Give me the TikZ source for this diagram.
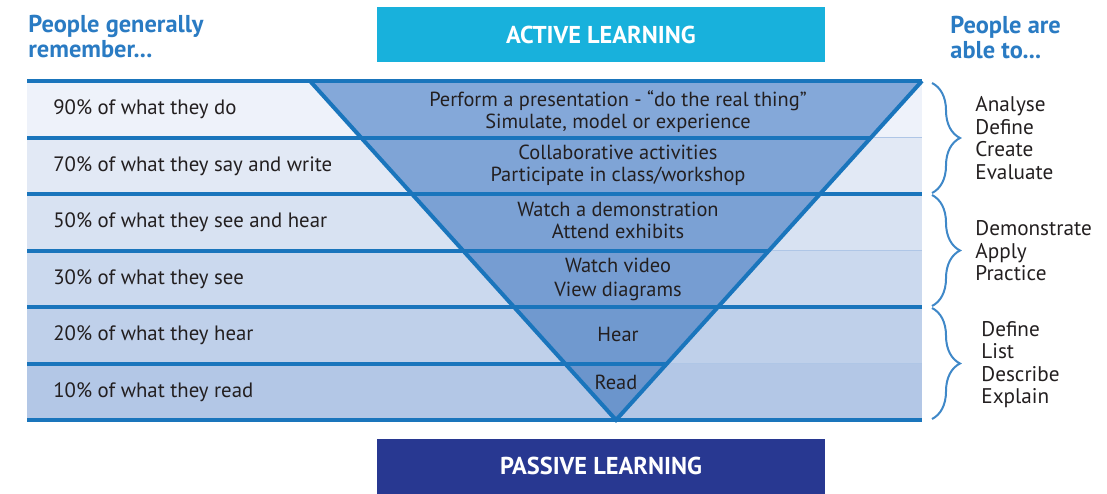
\documentclass[tikz,border=0pt]{standalone}
\usepackage{fontspec}
\setmainfont{PT Sans}
\usetikzlibrary{decorations.pathreplacing}

\definecolor{linkblue}{HTML}{1A75BC}
\definecolor{headblue}{HTML}{2A7BC3}
\definecolor{braceblue}{HTML}{3F88C8}
\definecolor{thinblue}{HTML}{AFC6E6}
\definecolor{activecol}{HTML}{18B1DC}
\definecolor{passivecol}{HTML}{283891}
\definecolor{inkgray}{HTML}{231F20}
\definecolor{row1}{HTML}{EEF2FA}
\definecolor{row2}{HTML}{E2E9F5}
\definecolor{row3}{HTML}{D8E2F2}
\definecolor{row4}{HTML}{CBD9EE}
\definecolor{row5}{HTML}{BFD0EA}
\definecolor{row6}{HTML}{B3C7E6}
\definecolor{tri1}{HTML}{84A8D9}
\definecolor{tri2}{HTML}{7FA4D6}
\definecolor{tri3}{HTML}{7BA1D4}
\definecolor{tri4}{HTML}{769DD2}
\definecolor{tri5}{HTML}{7099CF}
\definecolor{tri6}{HTML}{6B95CC}

\tikzset{
  rowlabel/.style={anchor=west,inner sep=0pt,text=inkgray},
  trilabel/.style={align=center,inner sep=0pt,text=inkgray,
    font=\fontsize{10.2}{11}\selectfont},
  ablelabel/.style={anchor=west,align=left,inner sep=0pt,text=inkgray,
    font=\fontsize{10.6}{11.25}\selectfont},
  headline/.style={anchor=west,align=left,inner sep=0pt,text=headblue,
    font=\fontsize{12.2}{12.5}\selectfont\bfseries},
  learnbox/.style={rectangle,minimum width=224pt,minimum height=27.5pt,
    inner sep=0pt,text=white,font=\fontsize{12.2}{13}\selectfont\bfseries},
  thickline/.style={draw=linkblue,line width=2pt},
  thinline/.style={draw=thinblue,line width=0.6pt},
  bracket/.style={draw=braceblue,line width=1pt,
    decorate,decoration={brace,amplitude=14pt}}
}

\begin{document}
\begin{tikzpicture}[x=0.5pt,y=-0.5pt,font=\fontsize{10.4}{12}\selectfont]
\useasboundingbox (0,0) rectangle (1107,493);

% rows
\fill[row1] (27,81) rectangle (922,137.5);
\fill[row2] (27,137.5) rectangle (922,194);
\fill[row3] (27,194) rectangle (922,250.5);
\fill[row4] (27,250.5) rectangle (922,307);
\fill[row5] (27,307) rectangle (922,363.5);
\fill[row6] (27,363.5) rectangle (922,420);

% inverted triangle, one band per row
\fill[tri1] (310,81) -- (922,81) -- (871,137.5) -- (361,137.5) -- cycle;
\fill[tri2] (361,137.5) -- (871,137.5) -- (820,194) -- (412,194) -- cycle;
\fill[tri3] (412,194) -- (820,194) -- (769,250.5) -- (463,250.5) -- cycle;
\fill[tri4] (463,250.5) -- (769,250.5) -- (718,307) -- (514,307) -- cycle;
\fill[tri5] (514,307) -- (718,307) -- (667,363.5) -- (565,363.5) -- cycle;
\fill[tri6] (565,363.5) -- (667,363.5) -- (616,420) -- cycle;

\draw[thinline] (871,137.5) -- (922,137.5);
\draw[thinline] (769,250.5) -- (922,250.5);
\draw[thinline] (667,363.5) -- (922,363.5);

\draw[thickline] (27,81) -- (922,81);
\draw[thickline] (27,137.5) -- (871,137.5);
\draw[thickline] (27,194) -- (922,194);
\draw[thickline] (27,250.5) -- (769,250.5);
\draw[thickline] (27,307) -- (922,307);
\draw[thickline] (27,363.5) -- (667,363.5);
\draw[thickline] (27,420) -- (922,420);
\draw[thickline,line join=miter] (310,81) -- (616,420) -- (922,81);

% left column
\node[rowlabel] (r1) at (53,109.25) {90\% of what they do};
\node[rowlabel] (r2) at (53,165.75) {70\% of what they say and write};
\node[rowlabel] (r3) at (53,222.25) {50\% of what they see and hear};
\node[rowlabel] (r4) at (53,278.75) {30\% of what they see};
\node[rowlabel] (r5) at (53,335.25) {20\% of what they hear};
\node[rowlabel] (r6) at (53,391.75) {10\% of what they read};

% inside the triangle
\node[trilabel] (t1) at (618,112) {Perform a presentation - “do the real thing”\\Simulate, model or experience};
\node[trilabel] (t2) at (618,165) {Collaborative activities\\Participate in class/workshop};
\node[trilabel] (t3) at (618,220) {Watch a demonstration\\Attend exhibits};
\node[trilabel] (t4) at (618,279) {Watch video\\[1pt]View diagrams};
\node[trilabel] (t5) at (618,334) {Hear};
\node[trilabel] (t6) at (616,382) {Read};

% right column
\coordinate (b0) at (932,83);
\coordinate (b1) at (932,193);
\coordinate (b2) at (932,195);
\coordinate (b3) at (932,306);
\coordinate (b4) at (932,308);
\coordinate (b5) at (932,419);
\draw[bracket] (b0) -- (b1);
\draw[bracket] (b2) -- (b3);
\draw[bracket] (b4) -- (b5);

\node[ablelabel] (s1) at (975,138) {Analyse\\Define\\Create\\Evaluate};
\node[ablelabel] (s2) at (975,251) {Demonstrate\\Apply\\Practice};
\node[ablelabel] (s3) at (981,364.5) {Define\\List\\Describe\\Explain};

% headings and boxes
\node[headline] (hl) at (28,36.5) {People generally\\remember...};
\node[headline] (hr) at (950,37.5) {People are\\able to...};
\node[learnbox,fill=activecol] (active) at (601,34.5) {ACTIVE LEARNING};
\node[learnbox,fill=passivecol] (passive) at (601,466) {PASSIVE LEARNING};

\end{tikzpicture}
\end{document}
